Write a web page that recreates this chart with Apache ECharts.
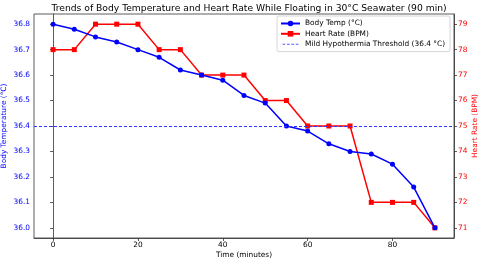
<!DOCTYPE html>
<html><head><meta charset="utf-8">
<script src="https://cdn.jsdelivr.net/npm/echarts@6/dist/echarts.min.js"></script>
<style>html,body{margin:0;padding:0;background:#fff}#c{width:480px;height:261px}</style>
</head><body><div id="c"></div>
<script>
const timeMin = [0,5,10,15,20,25,30,35,40,45,50,55,60,65,70,75,80,85,90];
const bodyTemp = [36.80,36.78,36.75,36.73,36.70,36.67,36.62,36.60,36.58,36.52,36.49,36.40,36.38,36.33,36.30,36.29,36.25,36.16,36.00];
const heartRate = [78,78,79,79,79,78,78,77,77,77,76,76,75,75,75,72,72,72,71];
const threshold = 36.4;
const xTicks = [0,20,40,60,80];
const tempTicks = [36.0,36.1,36.2,36.3,36.4,36.5,36.6,36.7,36.8];
const hrTicks = [71,72,73,74,75,76,77,78,79];

const FONT = 'DejaVu Sans';
const FS = 7.4;
const dashIcon = 'path://M0,0 M19,8 M0.5,3.5 H3.5 V4.6 H0.5 Z M5.5,3.5 H8.5 V4.6 H5.5 Z M10.5,3.5 H13.5 V4.6 H10.5 Z M15.5,3.5 H18.5 V4.6 H15.5 Z';
const chart = echarts.init(document.getElementById('c'), null, {renderer:'canvas'});
chart.setOption({
  animation:false,
  textStyle:{fontFamily:FONT},
  title:{text:'Trends of Body Temperature and Heart Rate While Floating in 30°C Seawater (90 min)',
    left:244, textAlign:'center', top:-1, textStyle:{fontFamily:FONT,fontSize:9.2,fontWeight:'normal',color:'#000'}},
  grid:{left:34,right:26,top:14,bottom:23,show:true,borderColor:'#333',borderWidth:0.8,outerBoundsMode:'none',containLabel:false},
  legend:{orient:'vertical',left:277,top:16,itemWidth:19,itemHeight:7,itemGap:3.3,
    padding:[4,5,4,3],borderColor:'#ccc',borderWidth:0.8,borderRadius:2,backgroundColor:'rgba(255,255,255,0.85)',
    textStyle:{fontFamily:FONT,fontSize:FS,color:'#000'},
    data:['Body Temp (°C)','Heart Rate (BPM)',{name:'Mild Hypothermia Threshold (36.4 °C)',icon:dashIcon,itemStyle:{color:'#5555ff'}}]},
  xAxis:{type:'value',min:-4.5,max:94.5,
    name:'Time (minutes)',nameLocation:'middle',nameGap:14,nameMoveOverlap:false,nameTextStyle:{fontFamily:FONT,fontSize:FS,color:'#000'},
    axisLine:{show:true,lineStyle:{color:'#333',width:0.8}},
    axisTick:{show:true,inside:false,length:3,customValues:xTicks,lineStyle:{color:'#333',width:0.8}},
    axisLabel:{customValues:xTicks,fontFamily:FONT,fontSize:FS,color:'#000',margin:4},
    splitLine:{show:false}},
  yAxis:[
    {type:'value',min:35.96,max:36.84,position:'left',
     name:'Body Temperature (°C)',nameLocation:'middle',nameGap:26,nameRotate:90,nameMoveOverlap:false,
     nameTextStyle:{fontFamily:FONT,fontSize:FS,color:'#0000ff'},
     axisLine:{show:true,lineStyle:{color:'#333',width:0.8}},
     axisTick:{show:true,length:3,customValues:tempTicks,lineStyle:{color:'#333',width:0.8}},
     axisLabel:{customValues:tempTicks,fontFamily:FONT,fontSize:FS,color:'#0000ff',margin:4,formatter:v=>v.toFixed(1)},
     splitLine:{show:false}},
    {type:'value',min:70.6,max:79.4,position:'right',
     name:'Heart Rate (BPM)',nameLocation:'middle',nameGap:18,nameRotate:90,nameMoveOverlap:false,
     nameTextStyle:{fontFamily:FONT,fontSize:FS,color:'#ff0000'},
     axisLine:{show:true,lineStyle:{color:'#333',width:0.8}},
     axisTick:{show:true,length:3,customValues:hrTicks,lineStyle:{color:'#333',width:0.8}},
     axisLabel:{customValues:hrTicks,fontFamily:FONT,fontSize:FS,color:'#ff0000',margin:4,formatter:v=>String(v)},
     splitLine:{show:false}}
  ],
  series:[
    {name:'Body Temp (°C)',type:'line',yAxisIndex:0,z:3,
     data:timeMin.map((t,i)=>[t,bodyTemp[i]]),
     symbol:'circle',symbolSize:5,color:'#0000ff',
     lineStyle:{color:'#0000ff',width:1.5},itemStyle:{color:'#0000ff'},
     markLine:{silent:true,symbol:'none',label:{show:false},
       lineStyle:{color:'#3333ff',type:[3,2],width:1,opacity:1},data:[{yAxis:threshold}]}},
    {name:'Heart Rate (BPM)',type:'line',yAxisIndex:1,z:2,
     data:timeMin.map((t,i)=>[t,heartRate[i]]),
     symbol:'rect',symbolSize:5,color:'#ff0000',
     lineStyle:{color:'#ff0000',width:1.5},itemStyle:{color:'#ff0000'}},
    {name:'Mild Hypothermia Threshold (36.4 °C)',type:'line',yAxisIndex:0,data:[],
     symbol:'none',color:'#5555ff',lineStyle:{color:'#5555ff',type:[3,2],width:0.8}}
  ]
});
</script></body></html>
